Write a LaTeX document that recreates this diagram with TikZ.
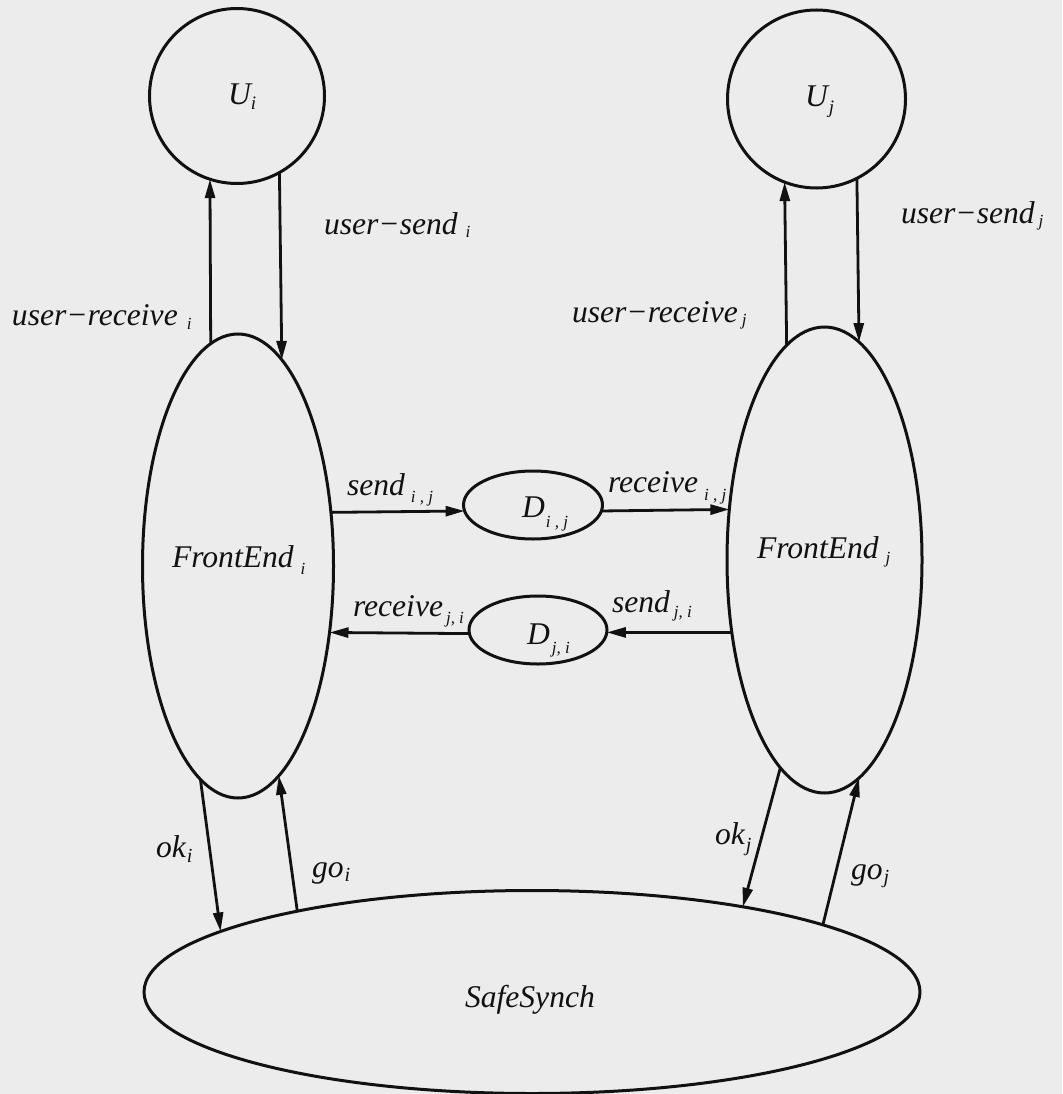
\documentclass[tikz,border=0pt]{standalone}
\usepackage{fontspec}
\newfontfamily\tmsfont{LiberationSerif}[Extension=.ttf, UprightFont=*-Regular, ItalicFont=*-Italic, BoldFont=*-Bold, BoldItalicFont=*-BoldItalic]
\usetikzlibrary{arrows.meta,shapes.geometric}
\definecolor{ink}{RGB}{17,17,17}
\definecolor{bg}{RGB}{236,236,236}
\newcommand{\labsub}[4]{\hspace{#1}\raisebox{-#2}{\fontsize{#3}{#3}\selectfont #4}}
\newcommand{\mn}{\symbol{"2212}}
\begin{document}
\begin{tikzpicture}[x=1pt,y=-1pt,
  shp/.style={draw=ink, line width=3pt, inner sep=0pt, outer sep=0pt},
  circ/.style={shp, circle},
  ell/.style={shp, ellipse},
  arr/.style={draw=ink, line width=2.8pt, -{Triangle[length=19pt,width=10pt]}},
  txt/.style={anchor=base west, inner sep=0pt, outer sep=0pt, text=ink,
              font=\tmsfont\fontsize{31.6}{36}\selectfont\itshape}]
\fill[bg] (0,0) rectangle (1062,1094);
\useasboundingbox (0,0) rectangle (1062,1094);

% shapes
\node[circ, minimum size=175pt] (Ui) at (237,96) {};
\node[circ, minimum size=178pt] (Uj) at (816.5,99) {};
\node[ell, minimum width=191pt, minimum height=464pt] (FEi) at (238,566) {};
\node[ell, minimum width=195pt, minimum height=466pt] (FEj) at (824.5,560) {};
\node[ell, minimum width=139pt, minimum height=68pt] (Dij) at (533,505) {};
\node[ell, minimum width=138pt, minimum height=68pt] (Dji) at (538,630) {};
\node[ell, minimum width=776pt, minimum height=203pt] (SS) at (532,992) {};

% texts
\node[txt] (tUi) at (228,105) {U\labsub{0pt}{5pt}{19}{i}};
\node[txt] (tUj) at (805,107) {U\labsub{1pt}{7pt}{19}{j}};
\node[txt] (tFEi) at (172,567) {FrontEnd\labsub{7pt}{7pt}{17}{i}};
\node[txt] (tFEj) at (757,558) {FrontEnd\labsub{7pt}{5pt}{17}{j}};
\node[txt] (tDij) at (522,517) {D\labsub{1pt}{10pt}{17}{i , j}};
\node[txt] (tDji) at (527,644) {D\labsub{2pt}{9pt}{17}{j, i}};
\node[txt] (tSS) at (465,1007) {SafeSynch};

\node[txt] (lusi) at (324,234) {user\mn send\labsub{8pt}{3pt}{17}{i}};
\node[txt] (luri) at (12,325) {user\mn receive\labsub{9pt}{4pt}{17}{i}};
\node[txt] (lusj) at (901,223) {user\mn send\labsub{4pt}{3pt}{17}{j}};
\node[txt] (lurj) at (572,322) {user\mn receive\labsub{4pt}{3pt}{17}{j}};
\node[txt] (lsij) at (347,495) {send\labsub{6pt}{7pt}{17}{i , j}};
\node[txt] (lrij) at (608,492) {receive\labsub{6pt}{8pt}{17}{i , j}};
\node[txt] (lrji) at (353,616) {receive\labsub{3pt}{7pt}{17}{j, i}};
\node[txt] (lsji) at (612,612) {send\labsub{4pt}{5pt}{17}{j, i}};
\node[txt] (loki) at (156,857) {ok\labsub{1pt}{5pt}{20}{i}};
\node[txt] (lgoi) at (312,877) {go\labsub{1pt}{4pt}{20}{i}};
\node[txt] (lokj) at (715,844) {ok\labsub{1pt}{7pt}{20}{j}};
\node[txt] (lgoj) at (851,879) {go\labsub{1pt}{4pt}{20}{j}};

% connectors
\draw[arr] (FEi.97.5) -- (Ui.-108.7);
\draw[arr] (Ui.-61.3) -- (FEi.78.9);
\draw[arr] (FEj.100.8) -- (Uj.-111.4);
\draw[arr] (Uj.-63.65) -- (FEj.81.9);
\draw[arr] (FEi.30.2) -- (Dij.185.9);
\draw[arr] (Dij.-5) -- (FEj.152.8);
\draw[arr] (FEj.218.25) -- (Dji.-2.5);
\draw[arr] (Dji.183.3) -- (FEi.-36.7);
\draw[arr] (FEi.-100) -- (SS.169.4);
\draw[arr] (SS.161) -- (FEi.-79.2);
\draw[arr] (FEj.-102.4) -- (SS.22);
\draw[arr] (SS.13.25) -- (FEj.-81.9);
\end{tikzpicture}
\end{document}
